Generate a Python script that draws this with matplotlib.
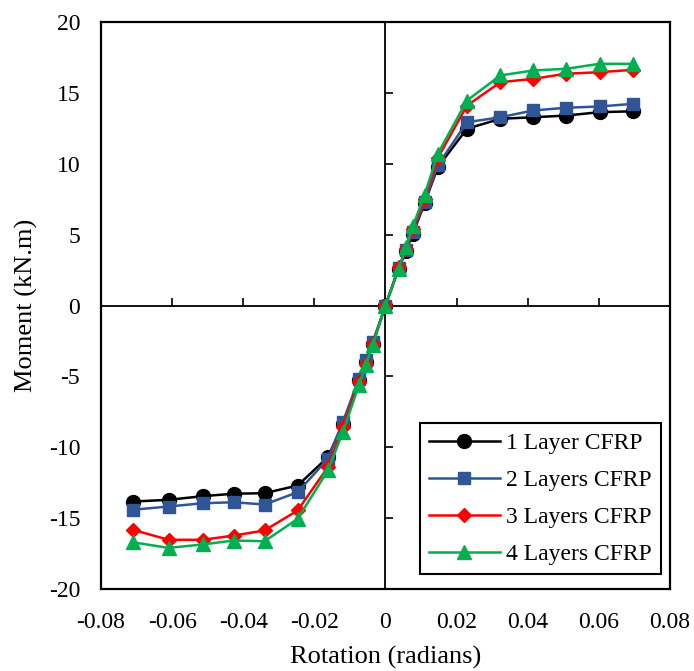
import numpy as np
import matplotlib
matplotlib.use('Agg')
import matplotlib.pyplot as plt

plt.rcParams['font.family'] = ['Liberation Serif', 'DejaVu Serif']
plt.rcParams['axes.unicode_minus'] = False

# rotation (radians), shared by all series
rotation = [-0.0711, -0.0610, -0.0514, -0.0427, -0.0340, -0.0247, -0.0162,
            -0.0120, -0.0075, -0.0056, -0.0036, 0.0,
            0.0037, 0.0058, 0.0077, 0.0110, 0.0147, 0.0229, 0.0323, 0.0415,
            0.0508, 0.0602, 0.0697]

# moment (kN.m)
layer1 = [-13.83, -13.71, -13.45, -13.28, -13.24, -12.70, -10.70,
          -8.35, -5.29, -4.00, -2.70, 0.0,
          2.59, 3.88, 5.06, 7.22, 9.76, 12.47, 13.17, 13.28, 13.40, 13.64, 13.70]
layer2 = [-14.41, -14.18, -13.95, -13.88, -14.04, -13.17, -10.82,
          -8.23, -5.17, -3.88, -2.59, 0.0,
          2.62, 3.95, 5.20, 7.30, 9.90, 12.93, 13.28, 13.76, 13.95, 14.04, 14.23]
layer3 = [-15.82, -16.53, -16.53, -16.23, -15.87, -14.46, -11.40,
          -8.59, -5.41, -4.11, -2.70, 0.0,
          2.70, 4.00, 5.40, 7.50, 10.40, 14.10, 15.75, 15.99, 16.35, 16.46, 16.63]
layer4 = [-16.70, -17.10, -16.86, -16.58, -16.63, -15.05, -11.64,
          -8.94, -5.64, -4.23, -2.82, 0.0,
          2.60, 4.10, 5.60, 7.80, 10.70, 14.46, 16.23, 16.58, 16.70, 17.05, 17.05]

series = [
    ('1 Layer CFRP', layer1, 'black', 'o', 10),
    ('2 Layers CFRP', layer2, '#2F5597', 's', 9),
    ('3 Layers CFRP', layer3, '#FF0000', 'D', 7.5),
    ('4 Layers CFRP', layer4, '#00B050', '^', 10),
]

fig = plt.figure(figsize=(6.94, 6.71), dpi=100)
rect = [101 / 694, (671 - 589) / 671, 569 / 694, 567 / 671]

# outer frame with tick labels
ax = fig.add_axes(rect)
ax.set_xlim(-0.08, 0.08)
ax.set_ylim(-20, 20)
ax.set_xticks(np.arange(-0.08, 0.081, 0.02))
ax.set_yticks(np.arange(-20, 21, 5))
ax.set_xticklabels(['-0.08', '-0.06', '-0.04', '-0.02', '0', '0.02', '0.04', '0.06', '0.08'])
ax.tick_params(length=0, labelsize=17)
ax.tick_params(axis='x', pad=16.5)
ax.tick_params(axis='y', pad=15)
for s in ax.spines.values():
    s.set_linewidth(1.6)
ax.set_xlabel('Rotation (radians)', fontsize=19, labelpad=9.5)
ax.set_ylabel('Moment (kN.m)', fontsize=19, labelpad=8)

# axes crossing at zero
ax2 = fig.add_axes(rect, sharex=ax, sharey=ax)
ax2.patch.set_visible(False)
ax2.spines['top'].set_visible(False)
ax2.spines['right'].set_visible(False)
ax2.spines['left'].set_position(('data', 0))
ax2.spines['bottom'].set_position(('data', 0))
ax2.spines['left'].set_linewidth(1.3)
ax2.spines['bottom'].set_linewidth(1.3)
ax2.tick_params(direction='in', length=6, width=1.2,
                labelleft=False, labelbottom=False)

for name, vals, col, mk, ms in series:
    ax2.plot(rotation, vals, color=col, marker=mk, markersize=ms,
             linewidth=1.8, label=name, zorder=3)

leg = ax2.legend(loc='lower right', bbox_to_anchor=(0.984, 0.026), fontsize=17,
                 fancybox=False, edgecolor='black', framealpha=1,
                 handlelength=3.0, labelspacing=0.65, borderpad=0.4,
                 handletextpad=0.25, borderaxespad=0)
leg.get_frame().set_linewidth(1.5)

fig.savefig('out.png', dpi=100)
